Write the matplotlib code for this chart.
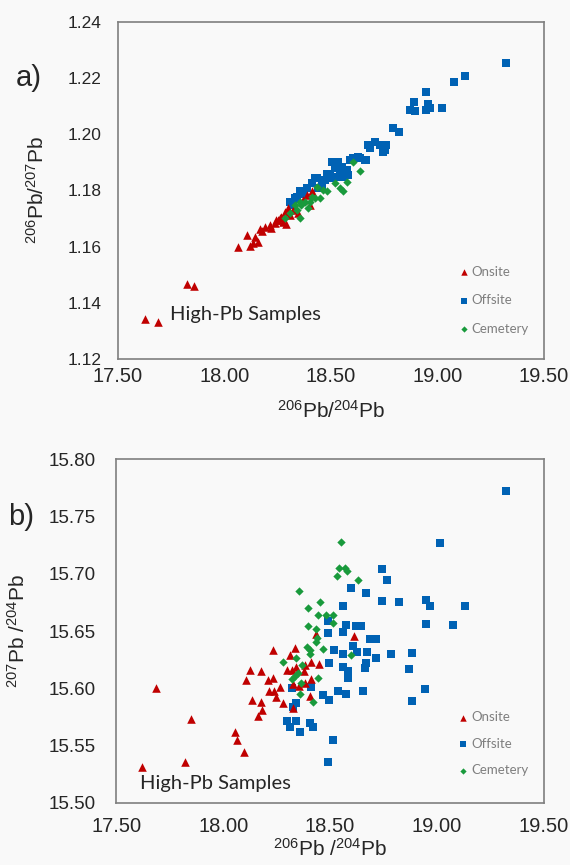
import numpy as np
import matplotlib
matplotlib.use("Agg")
import matplotlib.pyplot as plt

plt.rcParams['font.family'] = ['Liberation Sans', 'DejaVu Sans']
plt.rcParams['mathtext.fontset'] = 'custom'
plt.rcParams['mathtext.rm'] = 'Liberation Sans'
plt.rcParams['mathtext.default'] = 'regular'

# ---- panel a: 206Pb/207Pb vs 206Pb/204Pb ----
onsite_a = [(17.625, 1.1342), (17.689, 1.1333), (17.822, 1.1466), (17.856, 1.1460),
            (18.062, 1.1598), (18.120, 1.1603), (18.136, 1.1613), (18.104, 1.1642),
            (18.143, 1.1633), (18.159, 1.1617), (18.175, 1.1654), (18.167, 1.1664),
            (18.190, 1.1670), (18.214, 1.1675), (18.221, 1.1665), (18.237, 1.1683),
            (18.253, 1.1695), (18.268, 1.1706), (18.276, 1.1689), (18.284, 1.1724),
            (18.300, 1.1736), (18.308, 1.1712), (18.323, 1.1730), (18.347, 1.1719),
            (18.370, 1.1766), (18.386, 1.1783), (18.409, 1.1796), (18.401, 1.1748),
            (18.260, 1.1700), (18.290, 1.1680), (18.240, 1.1695)]

offsite_a = [(18.308, 1.1760), (18.331, 1.1772), (18.354, 1.1796), (18.386, 1.1807),
             (18.409, 1.1825), (18.433, 1.1843), (18.456, 1.1819), (18.472, 1.1837),
             (18.495, 1.1854), (18.503, 1.1901), (18.519, 1.1849), (18.534, 1.1901),
             (18.542, 1.1854), (18.550, 1.1884), (18.574, 1.1873), (18.581, 1.1854),
             (18.605, 1.1914), (18.628, 1.1920), (18.660, 1.1908), (18.675, 1.1961),
             (18.707, 1.1973), (18.730, 1.1961), (18.753, 1.1944), (18.761, 1.1961),
             (18.792, 1.2021), (18.821, 1.2008), (18.871, 1.2086), (18.890, 1.2115),
             (18.894, 1.2082), (18.949, 1.2149), (18.949, 1.2086), (18.957, 1.2106),
             (18.965, 1.2091), (19.020, 1.2091), (19.079, 1.2187), (19.131, 1.2208),
             (19.322, 1.2252), (18.425, 1.1843), (18.511, 1.1843), (18.558, 1.1849),
             (18.636, 1.1914), (18.667, 1.1908), (18.589, 1.1908), (18.683, 1.1950),
             (18.746, 1.1937), (18.320, 1.1746), (18.340, 1.1777), (18.370, 1.1787),
             (18.440, 1.1808), (18.480, 1.1859), (18.520, 1.1880)]

cemetery_a = [(18.284, 1.1700), (18.354, 1.1700), (18.339, 1.1730), (18.331, 1.1748),
              (18.354, 1.1760), (18.393, 1.1736), (18.401, 1.1760), (18.425, 1.1772),
              (18.448, 1.1772), (18.433, 1.1813), (18.464, 1.1801), (18.480, 1.1796),
              (18.519, 1.1825), (18.542, 1.1807), (18.558, 1.1796), (18.574, 1.1831),
              (18.605, 1.1901), (18.636, 1.1870), (18.380, 1.1757), (18.410, 1.1777),
              (18.310, 1.1721), (18.360, 1.1746)]

# ---- panel b: 207Pb/204Pb vs 206Pb/204Pb ----
onsite_b = [(17.620, 15.531), (17.685, 15.600), (17.821, 15.536), (17.850, 15.573),
            (18.056, 15.562), (18.063, 15.555), (18.098, 15.544), (18.109, 15.607),
            (18.124, 15.616), (18.137, 15.590), (18.175, 15.588), (18.164, 15.576),
            (18.184, 15.581), (18.179, 15.615), (18.211, 15.607), (18.215, 15.598),
            (18.231, 15.633), (18.231, 15.609), (18.240, 15.598), (18.248, 15.592),
            (18.268, 15.601), (18.278, 15.587), (18.299, 15.616), (18.312, 15.629),
            (18.320, 15.616), (18.327, 15.583), (18.327, 15.604), (18.335, 15.635),
            (18.343, 15.619), (18.356, 15.602), (18.377, 15.615), (18.382, 15.620),
            (18.382, 15.605), (18.405, 15.593), (18.409, 15.623), (18.413, 15.608),
            (18.433, 15.647), (18.449, 15.621), (18.611, 15.646)]

offsite_b = [(18.561, 15.672), (18.491, 15.659), (18.577, 15.655), (18.621, 15.654),
             (18.647, 15.654), (18.561, 15.649), (18.491, 15.648), (18.686, 15.643),
             (18.717, 15.643), (18.608, 15.637), (18.518, 15.633), (18.627, 15.632),
             (18.674, 15.632), (18.787, 15.630), (18.561, 15.630), (18.496, 15.622),
             (18.561, 15.619), (18.585, 15.615), (18.670, 15.622), (18.714, 15.626),
             (18.663, 15.618), (18.585, 15.609), (18.413, 15.601), (18.320, 15.600),
             (18.468, 15.594), (18.496, 15.590), (18.538, 15.598), (18.577, 15.595),
             (18.655, 15.598), (18.327, 15.584), (18.340, 15.587), (18.299, 15.571),
             (18.315, 15.566), (18.340, 15.571), (18.359, 15.562), (18.405, 15.570),
             (18.418, 15.566), (18.513, 15.555), (18.490, 15.536), (18.741, 15.676),
             (18.745, 15.704), (18.766, 15.695), (18.600, 15.688), (18.667, 15.683),
             (18.823, 15.675), (18.951, 15.677), (18.967, 15.672), (19.131, 15.672),
             (19.014, 15.727), (18.951, 15.656), (19.076, 15.655), (18.884, 15.631),
             (18.870, 15.617), (18.946, 15.599), (18.884, 15.589), (19.322, 15.772)]

cemetery_b = [(18.551, 15.728), (18.543, 15.705), (18.569, 15.705), (18.580, 15.702),
              (18.533, 15.698), (18.632, 15.695), (18.356, 15.685), (18.452, 15.675),
              (18.395, 15.670), (18.444, 15.664), (18.480, 15.664), (18.515, 15.664),
              (18.515, 15.657), (18.398, 15.654), (18.433, 15.652), (18.440, 15.644),
              (18.433, 15.640), (18.405, 15.633), (18.390, 15.636), (18.465, 15.634),
              (18.343, 15.626), (18.367, 15.620), (18.405, 15.630), (18.281, 15.623),
              (18.320, 15.608), (18.335, 15.611), (18.351, 15.613), (18.362, 15.605),
              (18.444, 15.609), (18.359, 15.595), (18.418, 15.588), (18.600, 15.629)]

x_ticks = [17.50, 18.00, 18.50, 19.00, 19.50]
ya_ticks = [1.12, 1.14, 1.16, 1.18, 1.20, 1.22, 1.24]
yb_ticks = [15.50, 15.55, 15.60, 15.65, 15.70, 15.75, 15.80]

red = '#c00000'
blue = '#0062b4'
green = '#199a3c'
bg = '#f9f9f9'
grey = '#7f7f7f'
ink = '#262626'

fig = plt.figure(figsize=(5.7, 8.65), dpi=100, facecolor=bg)
ax_a = fig.add_axes([0.207, 0.585, 0.747, 0.390])
ax_b = fig.add_axes([0.204, 0.072, 0.750, 0.397])


def draw_panel(ax, onsite, offsite, cemetery, yticks, ylabel, xlabel,
               ylab_x, ypad, ysize, xpad, xlabpad, leg_top, leg_space):
    ax.set_facecolor(bg)
    ax.scatter(*zip(*onsite), marker='^', s=38, color=red, lw=0, label='Onsite', zorder=3)
    ax.scatter(*zip(*offsite), marker='s', s=26, color=blue, lw=0, label='Offsite', zorder=2)
    ax.scatter(*zip(*cemetery), marker='D', s=18, color=green, lw=0, label='Cemetery', zorder=4)
    ax.set_xlim(x_ticks[0], x_ticks[-1])
    ax.set_ylim(yticks[0], yticks[-1])
    ax.set_xticks(x_ticks)
    ax.set_xticklabels([f'{v:.2f}' for v in x_ticks], fontsize=14.5)
    ax.set_yticks(yticks)
    ax.set_yticklabels([f'{v:.2f}' for v in yticks], fontsize=ysize)
    ax.tick_params(axis='both', length=0, colors=ink)
    ax.tick_params(axis='x', pad=xpad)
    ax.tick_params(axis='y', pad=ypad)
    for sp in ax.spines.values():
        sp.set_color(grey)
        sp.set_linewidth(1.2)
    ax.set_xlabel(xlabel, fontsize=15, color=ink, labelpad=xlabpad)
    ax.set_ylabel(ylabel, fontsize=15, color=ink)
    ax.yaxis.set_label_coords(ylab_x, 0.5)
    ax.legend(loc='upper left', bbox_to_anchor=(0.796, leg_top), frameon=False,
              prop={'family': 'Lato', 'size': 9.5}, labelcolor=grey,
              handlelength=1.0, handletextpad=0.1, labelspacing=leg_space,
              markerscale=0.75, borderpad=0, borderaxespad=0)


draw_panel(ax_a, onsite_a, offsite_a, cemetery_a, ya_ticks,
           r'$^{206}$Pb/$^{207}$Pb', r'$^{206}$Pb/$^{204}$Pb',
           -0.165, 12, 12.5, 6, 10, 0.277, 1.25)
draw_panel(ax_b, onsite_b, offsite_b, cemetery_b, yb_ticks,
           r'$^{207}$Pb /$^{204}$Pb', r'$^{206}$Pb /$^{204}$Pb',
           -0.205, 15, 13.5, 10, 1.5, 0.266, 1.1)

ax_a.text(17.744, 1.1357, 'High-Pb Samples', fontsize=14.5, family='Lato', color=ink, va='center')
ax_b.text(17.61, 15.517, 'High-Pb Samples', fontsize=14.5, family='Lato', color=ink, va='center')

fig.text(16 / 570, 1 - 78 / 865, 'a)', fontsize=21, color=ink, va='center')
fig.text(8 / 570, 1 - 517 / 865, 'b)', fontsize=21, color=ink, va='center')

fig.savefig('out.png', dpi=100, facecolor=bg)
